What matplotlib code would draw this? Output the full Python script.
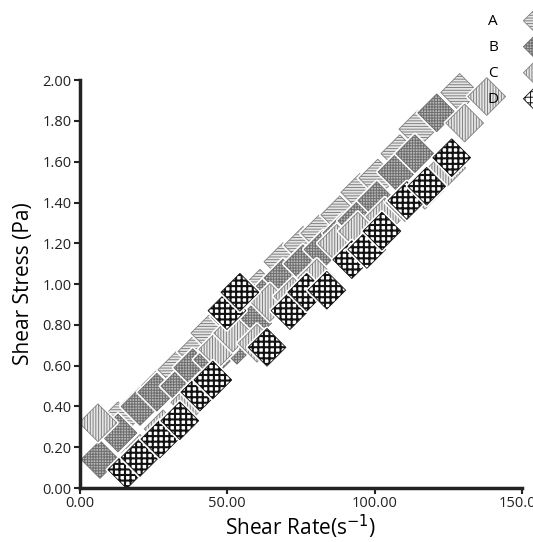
import numpy as np
import matplotlib.pyplot as plt
import matplotlib.patheffects as pe

# ---------------------------------------------------------------------------
# Data
# ---------------------------------------------------------------------------
rate_a   = [12.9, 20.4, 27.1, 32.9, 39.7, 44.1, 50.9, 61.1, 68.9, 75.7,
            81.4, 88.2, 95.0, 101.1, 108.6, 114.7, 128.9]
stress_a = [0.33, 0.41, 0.50, 0.58, 0.67, 0.76, 0.84, 0.98, 1.11, 1.19,
            1.25, 1.34, 1.45, 1.52, 1.64, 1.76, 1.94]

rate_b   = [6.8, 12.9, 20.4, 26.1, 33.9, 38.3, 45.1, 53.3, 58.7, 63.5,
            68.9, 75.7, 82.5, 88.9, 94.0, 100.8, 107.6, 113.7, 121.1]
stress_b = [0.14, 0.27, 0.40, 0.47, 0.50, 0.59, 0.63, 0.70, 0.81, 0.95,
            1.03, 1.10, 1.17, 1.25, 1.31, 1.41, 1.55, 1.64, 1.84]

rate_c   = [6.1, 20.4, 28.2, 37.3, 46.8, 51.9, 60.1, 64.5, 72.3, 80.4,
            87.2, 94.3, 103.5, 110.3, 117.1, 124.5, 130.6, 138.1]
stress_c = [0.32, 0.17, 0.29, 0.42, 0.68, 0.76, 0.71, 0.91, 0.94, 1.03,
            1.20, 1.26, 1.33, 1.40, 1.46, 1.57, 1.79, 1.92]

rate_d   = [15.9, 20.4, 27.1, 33.9, 40.7, 45.1, 49.9, 54.3, 63.5, 71.3,
            77.0, 83.8, 92.3, 97.4, 102.5, 111.0, 117.7, 126.2]
stress_d = [0.09, 0.15, 0.24, 0.33, 0.47, 0.53, 0.87, 0.96, 0.69, 0.87,
            0.96, 0.97, 1.12, 1.17, 1.26, 1.41, 1.48, 1.62]

labels = ["A", "B", "C", "D"]

plt.rcParams["font.family"] = ["Open Sans", "DejaVu Sans"]

fig = plt.figure(figsize=(5.33, 5.42), dpi=100)
ax = fig.add_axes([0.150, 0.0996, 0.829, 0.7524])

# (style, hatch line width) per series
styles = [
    (dict(facecolor="#e6e6e6", edgecolor="#808080", hatch="------"), 0.7),  # A
    (dict(facecolor="#b8b8b8", edgecolor="#6e6e6e", hatch="++++++"), 0.7),  # B
    (dict(facecolor="#e6e6e6", edgecolor="#808080", hatch="||||||"), 0.7),  # C
    (dict(facecolor="#ffffff", edgecolor="#111111", hatch="+++"), 1.5),     # D
]
series = [(rate_a, stress_a), (rate_b, stress_b),
          (rate_c, stress_c), (rate_d, stress_d)]

halo = [pe.withStroke(linewidth=3, foreground="white")]
for (xs, ys), (st, hlw), lab in zip(series, styles, labels):
    plt.rcParams["hatch.linewidth"] = hlw
    ax.scatter(xs, ys, s=370, marker="D", linewidths=0.6, label=lab,
               clip_on=False, path_effects=halo, **st)
plt.rcParams["hatch.linewidth"] = 0.7

ax.set_xlim(0, 150)
ax.set_ylim(0, 2.0)
ax.set_xticks([0, 50, 100, 150])
ax.set_xticklabels(["0.00", "50.00", "100.00", "150.00"])
ax.set_yticks(np.arange(0, 2.01, 0.2))
ax.set_yticklabels([f"{v:.2f}" for v in np.arange(0, 2.01, 0.2)])
ax.tick_params(labelsize=10.5, length=4, width=1.5, colors="#222222", pad=2)

for side in ["top", "right"]:
    ax.spines[side].set_visible(False)
for side in ["left", "bottom"]:
    ax.spines[side].set_linewidth(2.5)
    ax.spines[side].set_color("#222222")

ax.set_xlabel("Shear Rate(s$^{-1}$)", fontsize=15, labelpad=1)
ax.set_ylabel("Shear Stress (Pa)", fontsize=15, labelpad=6)

# legend sits at the right edge, its markers run off the figure as in the source
leg = fig.legend(loc="upper left", bbox_to_anchor=(0.888, 1.0),
                 markerfirst=False, frameon=False, fontsize=11,
                 labelspacing=0.72, handletextpad=0.9, handlelength=3.0,
                 markerscale=0.6)

fig.savefig("out.png", dpi=100)
